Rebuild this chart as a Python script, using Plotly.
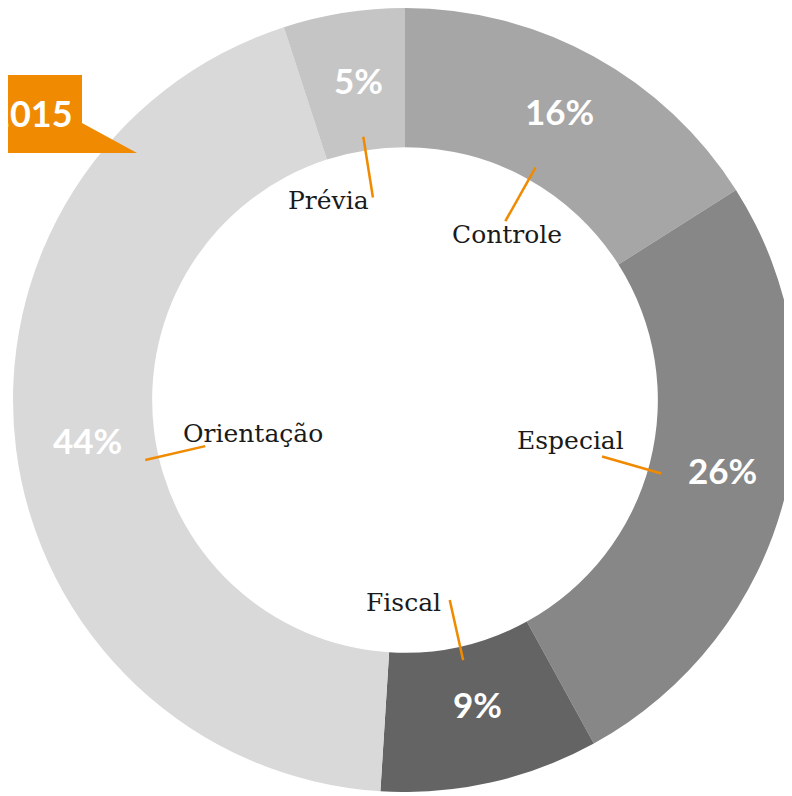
import math
import plotly.graph_objects as go

# ---- data ----
categories = ["Controle", "Especial", "Fiscal", "Orientação", "Prévia"]
values = [16, 26, 9, 44, 5]
year_label = "2015"

# ---- style ----
colors = ["#a6a6a6", "#878787", "#646464", "#d9d9d9", "#c5c5c5"]
ORANGE = "#f08a00"
W, H = 792, 784          # figure size
OFF = 8                  # page body margin
CXp, CYp, R = 405, 400, 392   # pie center (page px) and radius
HOLE = 0.645
# per-label leader angle tweak (deg) and label offset (px) from leader inner end
leader_tweak = [0.5, 1.6, 0, -5.8, 0]
label_offsets = [(2, 13), (-32, -16), (-46, 2), (48, -13), (-44, 3)]
# percentage label radius (fraction of R) and angle tweak (deg)
pct_r = [0.83, 0.83, 0.803, 0.817, 0.818]
pct_dang = [-0.4, -1.6, -0.8, -0.5, 0.6]
PCT_DY = -2.5

def to_paper(px, py):
    return (px - OFF) / W, 1 - (py - OFF) / H

fx0 = (CXp - OFF - R) / W
fx1 = (CXp - OFF + R) / W

fig = go.Figure()
fig.add_trace(go.Pie(
    labels=categories,
    values=values,
    sort=False,
    direction="clockwise",
    rotation=0,
    hole=HOLE,
    marker=dict(colors=colors, line=dict(width=0)),
    textinfo="none",
    hoverinfo="label+value",
    showlegend=False,
    domain=dict(x=[fx0, fx1], y=[0, 1]),
))

total = sum(values)
cum = 0
shapes = []
annotations = []
for i, v in enumerate(values):
    mid_deg = (cum + v / 2) / total * 360
    cum += v
    # leader line
    a = math.radians(mid_deg + leader_tweak[i])
    r_out, r_in = 0.68 * R, 0.523 * R
    x0, y0 = CXp + r_out * math.sin(a), CYp - r_out * math.cos(a)
    x1, y1 = CXp + r_in * math.sin(a), CYp - r_in * math.cos(a)
    p0 = to_paper(x0, y0)
    p1 = to_paper(x1, y1)
    shapes.append(dict(type="line", xref="paper", yref="paper",
                       x0=p0[0], y0=p0[1], x1=p1[0], y1=p1[1],
                       line=dict(color=ORANGE, width=2.5)))
    # category label
    dx, dy = label_offsets[i]
    lp = to_paper(x1 + dx, y1 + dy)
    annotations.append(dict(x=lp[0], y=lp[1], xref="paper", yref="paper",
                            text=categories[i], showarrow=False,
                            xanchor="center", yanchor="middle",
                            font=dict(family="DejaVu Serif", size=25, color="#1a1a1a")))
    # percentage label
    b = math.radians(mid_deg + pct_dang[i])
    rp = pct_r[i] * R
    pp = to_paper(CXp + rp * math.sin(b), CYp - rp * math.cos(b) + PCT_DY)
    annotations.append(dict(x=pp[0], y=pp[1], xref="paper", yref="paper",
                            text=f"{v}%", showarrow=False,
                            xanchor="center", yanchor="middle",
                            font=dict(family="Lato", size=35, color="white", weight=700)))

# year tag
tag = [(OFF, 75), (82, 75), (82, 123), (137, 153), (OFF, 153)]
path = "M " + " L ".join("{:.5f},{:.5f}".format(*to_paper(x, y)) for x, y in tag) + " Z"
shapes.append(dict(type="path", xref="paper", yref="paper", path=path,
                   fillcolor=ORANGE, line=dict(width=0)))
tp = to_paper(75, 113)
annotations.append(dict(x=tp[0], y=tp[1], xref="paper", yref="paper",
                        text=year_label, showarrow=False,
                        xanchor="right", yanchor="middle",
                        font=dict(family="Lato", size=36, color="white", weight=700)))

fig.update_layout(
    width=W, height=H,
    margin=dict(l=0, r=0, t=0, b=0),
    paper_bgcolor="white",
    plot_bgcolor="white",
    shapes=shapes,
    annotations=annotations,
)

fig.write_html("out.html")
